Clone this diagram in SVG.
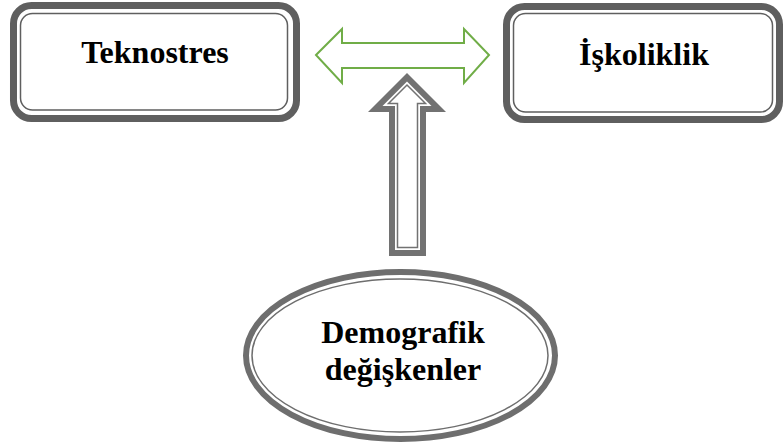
<svg xmlns="http://www.w3.org/2000/svg" width="784" height="443" viewBox="0 0 784 443">
  <style>
    .outer { fill: none; stroke: #5f5f5f; stroke-width: 7; }
    .inner { fill: none; stroke: #5f5f5f; stroke-width: 1.5; }
    .eouter { fill: none; stroke: #6e6e6e; stroke-width: 6; }
    .einner { fill: none; stroke: #6e6e6e; stroke-width: 1.5; }
    .lbl { font-family: "Liberation Serif", "Times New Roman", serif; font-weight: bold; font-size: 32px; fill: #000; text-anchor: middle; }
  </style>
  <rect width="784" height="443" fill="#fff"/>
  <g id="teknostres">
    <rect class="outer" x="13.5" y="5.5" width="283" height="113" rx="18"/>
    <rect class="inner" x="20.5" y="13.5" width="267" height="96.5" rx="12"/>
    <text class="lbl" x="155" y="63">Teknostres</text>
  </g>
  <g id="iskoliklik">
    <rect class="outer" x="506.5" y="6.5" width="273" height="113" rx="18"/>
    <rect class="inner" x="513.5" y="13.5" width="259" height="98.5" rx="12"/>
    <text class="lbl" x="644" y="65">İşkoliklik</text>
  </g>
  <g id="demografik">
    <ellipse class="eouter" cx="400.5" cy="355.5" rx="154.5" ry="83.5"/>
    <ellipse class="einner" cx="400" cy="355.5" rx="148" ry="76.5"/>
    <text class="lbl" x="403" y="343">Demografik</text>
    <text class="lbl" x="403" y="380">değişkenler</text>
  </g>
  <g id="connectors">
    <polygon points="316,55 342,29 342,43 464,43 464,29 489,55 464,83 464,68 342,68 342,83" fill="#fff" stroke="#70ad47" stroke-width="2" stroke-linejoin="miter"/>
    <polygon points="407,73 446,112 426,112 426,256 389,256 389,112 368,112" fill="#727272"/>
    <polygon points="407,81.5 431.5,106 420,106 420,250 395,250 395,106 382.5,106" fill="#fff"/>
    <polygon points="407,85 425.5,103.5 417.5,103.5 417.5,247.5 397.5,247.5 397.5,103.5 388.5,103.5" fill="#fff" stroke="#727272" stroke-width="1.5"/>
  </g>
</svg>
